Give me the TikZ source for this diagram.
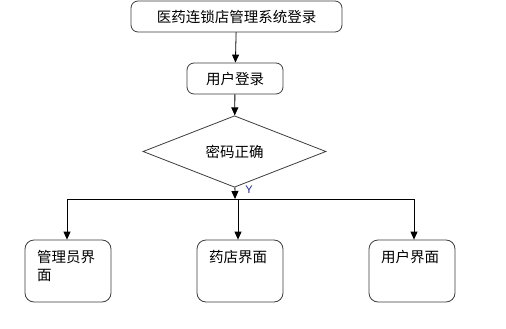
\documentclass[tikz,border=0pt]{standalone}
\usepackage{fontspec}
\usepackage{xcolor}
\usepackage{tikz}
\usetikzlibrary{arrows.meta, shapes.geometric}
\newfontfamily\cjk{Noto Sans CJK SC}
\setsansfont{Liberation Sans}
\definecolor{edge}{HTML}{3C3C3C}
\definecolor{ylabel}{HTML}{1A2390}

\begin{document}
\begin{tikzpicture}[x=1pt, y=-1pt,
  box/.style={draw=edge, line width=0.8pt, rounded corners=7pt, font=\cjk\fontsize{14.5}{18}\selectfont, inner sep=0pt},
  pagebox/.style={box, rounded corners=9pt, minimum width=86pt, minimum height=62pt},
  check/.style={draw=edge, line width=0.8pt, diamond, minimum width=183pt, minimum height=52pt, inner sep=0pt, font=\cjk\fontsize{14.5}{18}\selectfont},
  link/.style={line width=0.8pt, -{Triangle[length=8pt, width=7pt]}},
  >={Triangle[length=8pt, width=7pt]}
]
\useasboundingbox (0,0) rectangle (506,329);
\node[box, minimum width=211pt, minimum height=31pt] (title) at (236.5,16.5) {医药连锁店管理系统登录};
\node[box, minimum width=96pt, minimum height=31pt]  (login) at (235,78.5)  {用户登录};
\node[check] (ok) at (234.5,151.5) {密码正确};

\coordinate (split) at (235,199);
\coordinate (jl) at (67,199);
\coordinate (jm) at (238,199);
\coordinate (jr) at (414,199);

\node[pagebox] (admin) at (68,271)  {\parbox[c][58pt][t]{62pt}{\raggedright\rule{0pt}{20pt}管理员界\\面}};
\node[pagebox] (shop)  at (240,271) {\parbox[c][58pt][t]{62pt}{\raggedright\rule{0pt}{20pt}药店界面}};
\node[pagebox] (user)  at (412,271) {\parbox[c][58pt][t]{62pt}{\raggedright\rule{0pt}{20pt}用户界面}};

\draw[link] (title) -- (login);
\draw[link] (login) -- (ok);
\draw[link] (ok) -- (split);
\node[font=\sffamily\fontsize{11}{12}\selectfont, text=ylabel, inner sep=0pt] (yes) at (249,190) {Y};

\draw[line width=0.8pt] (jl) -- (jr);
\draw[link] (jl) -- (admin.north -| jl);
\draw[link] (jm) -- (shop.north -| jm);
\draw[link] (jr) -- (user.north -| jr);
\end{tikzpicture}
\end{document}
